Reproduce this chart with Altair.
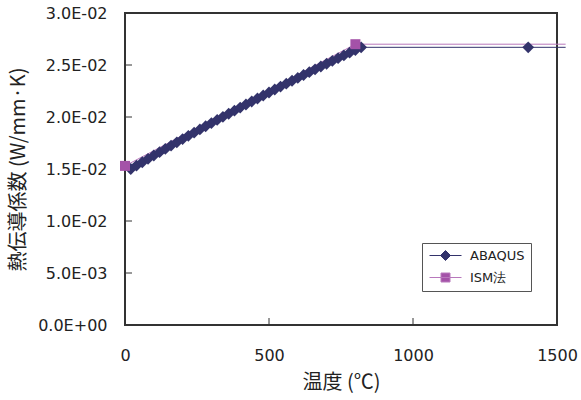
import altair as alt
import pandas as pd

# ---------------- data ----------------
series_names = ["ABAQUS", "ISM法"]
marker_colors = ["#33336B", "#A452A8"]
line_colors = ["#33336B", "#B878BC"]

abaqus_temp = [20, 40, 60, 80, 100, 120, 140, 160, 180, 200,
               220, 240, 260, 280, 300, 320, 340, 360, 380, 400,
               420, 440, 460, 480, 500, 520, 540, 560, 580, 600,
               620, 640, 660, 680, 700, 720, 740, 760, 780, 800,
               820, 1400, 1530]
abaqus_k = [0.015000, 0.015327, 0.015652, 0.015975, 0.016296, 0.016616, 0.016934, 0.017250, 0.017564, 0.017877,
            0.018188, 0.018497, 0.018804, 0.019110, 0.019414, 0.019716, 0.020016, 0.020315, 0.020612, 0.020907,
            0.021200, 0.021492, 0.021782, 0.022070, 0.022356, 0.022641, 0.022924, 0.023205, 0.023484, 0.023762,
            0.024038, 0.024312, 0.024584, 0.024855, 0.025124, 0.025391, 0.025656, 0.025920, 0.026182, 0.026442,
            0.026700, 0.026700, 0.026700]

ism_temp = [0, 800, 1530]
ism_k = [0.0153, 0.0270, 0.0270]

x_ticks = [0, 500, 1000, 1500]
y_ticks = [0.0, 0.005, 0.010, 0.015, 0.020, 0.025, 0.030]
y_tick_labels = ["0.0E+00", "5.0E-03", "1.0E-02", "1.5E-02", "2.0E-02", "2.5E-02", "3.0E-02"]
inner_x_ticks = [500, 1000]
inner_y_ticks = [0.005, 0.010, 0.015, 0.020, 0.025]

x_max = 1500
y_max = 0.03

# ---------------- tables ----------------
rows = []
for t, k in zip(abaqus_temp, abaqus_k):
    rows.append({"T": t, "k": k, "series": series_names[0], "marker": t <= x_max})
for t, k in zip(ism_temp, ism_k):
    rows.append({"T": t, "k": k, "series": series_names[1], "marker": t <= x_max})
df = pd.DataFrame(rows)

xtick_df = pd.DataFrame({"T": inner_x_ticks})
ytick_df = pd.DataFrame({"k": inner_y_ticks})

# ---------------- styling ----------------
W, H = 432, 312
label_font = "DejaVu Sans"
title_font = "Noto Sans CJK JP"
text_color = "#222222"
frame_color = "#333333"

xs = alt.Scale(domain=[0, x_max], nice=False, zero=False)
ys = alt.Scale(domain=[0, y_max], nice=False, zero=False)

label_expr = "[" + ",".join("'%s'" % s for s in y_tick_labels) + "][round(datum.value / 0.005)]"

x_axis = alt.Axis(values=x_ticks, title="温度 (℃)", format="d",
                  labelFont=label_font, labelFontSize=16, labelColor=text_color, labelPadding=22,
                  titleFont=title_font, titleFontSize=20, titleFontWeight="normal", titleColor=text_color,
                  titlePadding=9, ticks=False, domain=False, grid=False, labelFlush=False)
y_axis = alt.Axis(values=y_ticks, title="熱伝導係数 (W/mm·K)", labelExpr=label_expr,
                  labelFont=label_font, labelFontSize=16, labelColor=text_color, labelPadding=18,
                  titleFont=title_font, titleFontSize=20, titleFontWeight="normal", titleColor=text_color,
                  titlePadding=9, ticks=False, domain=False, grid=False, labelFlush=False)

X = alt.X("T:Q", scale=xs, axis=x_axis)
Y = alt.Y("k:Q", scale=ys, axis=y_axis)

# ---------------- layers ----------------
ytick_layer = alt.Chart(ytick_df).mark_rule(color=frame_color, strokeWidth=1).encode(
    y=Y, x=alt.value(0), x2=alt.value(7))
xtick_layer = alt.Chart(xtick_df).mark_rule(color=frame_color, strokeWidth=1).encode(
    x=X, y=alt.value(H), y2=alt.value(H - 7))

def series_filter(i, with_marker=False):
    expr = "datum.series == '%s'" % series_names[i]
    if with_marker:
        expr += " && datum.marker"
    return expr

line_ism = alt.Chart(df).transform_filter(series_filter(1)).mark_line(
    strokeWidth=1, clip=False, color=line_colors[1]).encode(x=X, y=Y)
line_abq = alt.Chart(df).transform_filter(series_filter(0)).mark_line(
    strokeWidth=1, clip=False, color=line_colors[0]).encode(x=X, y=Y)

diamonds = alt.Chart(df).transform_filter(series_filter(0, True)).mark_point(
    shape="diamond", filled=True, size=140, opacity=1, color=marker_colors[0], clip=False).encode(x=X, y=Y)

squares = alt.Chart(df).transform_filter(series_filter(1, True)).mark_point(
    shape="square", filled=True, size=100, opacity=1, color=marker_colors[1], clip=False).encode(x=X, y=Y)

legend_paths = ["M-3.2,0L3.2,0M0,-1L1,0L0,1L-1,0Z",
                "M-3.2,0L3.2,0M-0.9,-0.9L0.9,-0.9L0.9,0.9L-0.9,0.9Z"]

def make_legend():
    return alt.Legend(title=None, orient="none", legendX=297, legendY=230, padding=6,
                      strokeColor="#555555", fillColor="white",
                      symbolSize=100, symbolStrokeWidth=1, symbolOpacity=1,
                      symbolOffset=11, labelOffset=18, rowPadding=8,
                      labelExpr="datum.label + '\u3000'",
                      labelFont=label_font, labelFontSize=13, labelColor=text_color)

legend_layer = alt.Chart(df).mark_point(filled=True, size=0).encode(
    x=X, y=Y,
    fill=alt.Fill("series:N", scale=alt.Scale(domain=series_names, range=marker_colors), legend=make_legend()),
    stroke=alt.Stroke("series:N", scale=alt.Scale(domain=series_names, range=line_colors), legend=make_legend()),
    shape=alt.Shape("series:N", scale=alt.Scale(domain=series_names, range=legend_paths), legend=make_legend()),
)

chart = alt.layer(ytick_layer, xtick_layer, line_ism, line_abq, diamonds, squares, legend_layer).properties(
    width=W, height=H,
    autosize=alt.AutoSizeParams(type="none"),
    padding={"left": 125, "top": 13, "right": 24, "bottom": 75},
    background="white",
).configure_view(stroke=frame_color, strokeWidth=2)

chart.save("out.html", embed_options={"renderer": "svg", "actions": False})
